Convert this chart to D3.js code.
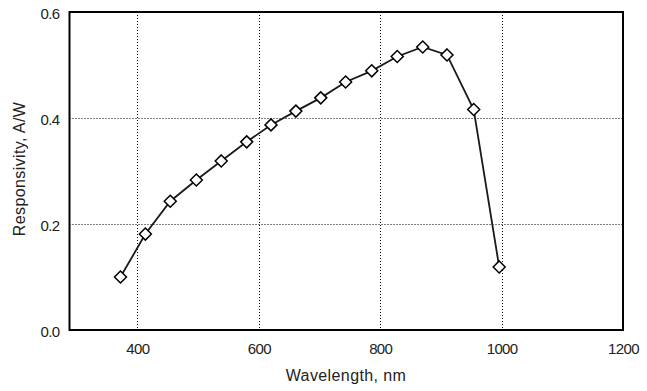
<!DOCTYPE html>
<html><head><meta charset="utf-8">
<script src="https://cdn.jsdelivr.net/npm/d3@7"></script>
<style>body{margin:0;background:#fff}svg{display:block}text{font-family:"Liberation Sans",Arial,sans-serif;fill:#222}</style>
</head><body><div id="chart"></div>
<script>
const wavelengths = [372, 413, 454, 497, 538, 580, 620, 661, 702, 743, 786, 828, 870, 910, 954, 996];
const responsivity = [0.100, 0.181, 0.243, 0.283, 0.319, 0.355, 0.387, 0.413, 0.438, 0.468, 0.489, 0.516, 0.534, 0.519, 0.416, 0.119];
const xTicks = [400, 600, 800, 1000, 1200];
const yTicks = [0.0, 0.2, 0.4, 0.6];
const xLabel = "Wavelength, nm";
const yLabel = "Responsivity, A/W";

const W = 647, H = 391;
const m = {left: 69.5, right: W - 623, top: 12, bottom: H - 330};
const svg = d3.select("#chart").append("svg").attr("width", W).attr("height", H);
const x = d3.scaleLinear().domain([288, 1200]).range([m.left, W - m.right]);
const y = d3.scaleLinear().domain([0, 0.6]).range([H - m.bottom, m.top]);

// grid
const g = svg.append("g");
g.selectAll(".vg").data(xTicks.filter(t => t < 1200)).enter().append("line")
  .attr("x1", d => Math.round(x(d)) + 0.5).attr("x2", d => Math.round(x(d)) + 0.5)
  .attr("y1", y(0.6)).attr("y2", y(0))
  .attr("stroke", "#000").attr("stroke-width", 1).attr("stroke-dasharray", "1,2");
g.selectAll(".hg").data(yTicks.filter(t => t > 0 && t < 0.6)).enter().append("line")
  .attr("y1", d => Math.round(y(d)) + 0.5).attr("y2", d => Math.round(y(d)) + 0.5)
  .attr("x1", x.range()[0]).attr("x2", x.range()[1])
  .attr("stroke", "#000").attr("stroke-width", 1).attr("stroke-dasharray", "1,2");

// axes (labels only)
const xa = svg.append("g").attr("transform", `translate(0,${y(0)})`)
  .call(d3.axisBottom(x).tickValues(xTicks).tickSize(0).tickPadding(13).tickFormat(d3.format("d")));
const ya = svg.append("g").attr("transform", `translate(${x.range()[0]},0)`)
  .call(d3.axisLeft(y).tickValues(yTicks).tickSize(0).tickPadding(10).tickFormat(d3.format(".1f")));
[xa, ya].forEach(a => {
  a.select(".domain").remove();
  a.attr("font-family", null).attr("font-size", null);
  a.selectAll("text").attr("font-size", 15).attr("letter-spacing", "-0.6px").attr("fill", "#222");
});
ya.selectAll("text").attr("dy", "0.4em");

// frame
svg.append("rect").attr("x", x.range()[0]).attr("y", y(0.6))
  .attr("width", x.range()[1] - x.range()[0]).attr("height", y(0) - y(0.6))
  .attr("fill", "none").attr("stroke", "#000").attr("stroke-width", 2);

// series
const pts = wavelengths.map((w, i) => [w, responsivity[i]]);
svg.append("path").datum(pts)
  .attr("d", d3.line().x(d => x(d[0])).y(d => y(d[1])))
  .attr("fill", "none").attr("stroke", "#1a1a1a").attr("stroke-width", 1.8);
svg.selectAll(".mk").data(pts).enter().append("path")
  .attr("transform", d => `translate(${x(d[0])},${y(d[1])})`)
  .attr("d", "M0,-6L6,0L0,6L-6,0Z")
  .attr("fill", "#fff").attr("stroke", "#000").attr("stroke-width", 1.5);

// titles
svg.append("text").attr("x", 346).attr("y", 381)
  .attr("text-anchor", "middle").attr("font-size", 16).attr("letter-spacing", "0.4px").text(xLabel);
svg.append("text").attr("transform", `translate(25,169) rotate(-90)`)
  .attr("text-anchor", "middle").attr("font-size", 16).attr("letter-spacing", "0.4px").text(yLabel);
</script></body></html>
